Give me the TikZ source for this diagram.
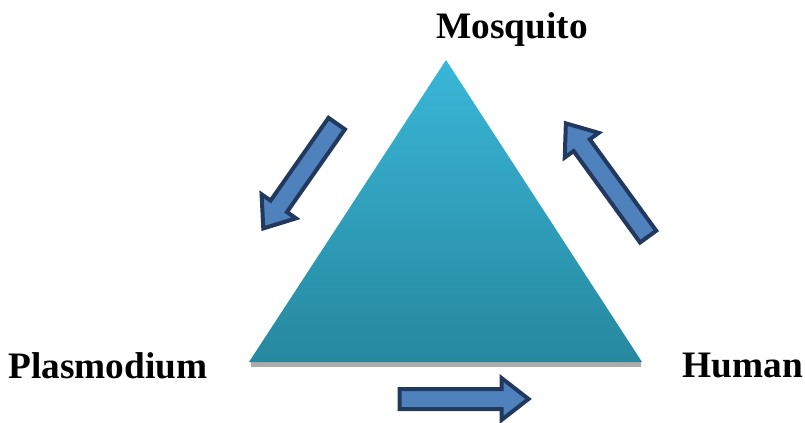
\documentclass[tikz,border=0pt]{standalone}
\usepackage{fontspec}
\setmainfont{Liberation Serif}
\usepackage{tikz}
\definecolor{tritop}{RGB}{58,182,216}
\definecolor{tribottom}{RGB}{38,136,158}
\definecolor{arrowfill}{RGB}{79,129,189}
\definecolor{arrowline}{RGB}{33,57,94}

\tikzset{
    host/.style={font=\fontsize{28}{32}\selectfont\bfseries, inner sep=0pt},
    blockarr/.style={fill=arrowfill, draw=arrowline, line width=3pt, line join=miter},
}

% block arrow: center x, center y, angle, length
\newcommand{\blockarrow}[4]{%
    \begin{scope}[shift={(#1,#2)}, rotate=#3]
        \draw[blockarr] (-#4/2,-10) -- (#4/2-27,-10) -- (#4/2-27,-21)
            -- (#4/2,0) -- (#4/2-27,21) -- (#4/2-27,10) -- (-#4/2,10) -- cycle;
    \end{scope}}

\begin{document}
\begin{tikzpicture}[x=0.75pt, y=-0.75pt]
    \useasboundingbox (0,0) rectangle (805,423);

    % Triangle with its shadow
    \begin{scope}
        \fill[gray!65] (251,362) -- (641,362) -- (641,367) -- (251,367) -- cycle;
        \shade[top color=tritop, bottom color=tribottom]
            (446,60) -- (642,362) -- (249,362) -- cycle;
    \end{scope}

    % Labels
    \node[host] (mosquito) at (512,30) {Mosquito};
    \node[host] (plasmodium) at (108,366) {Plasmodium};
    \node[host] (human) at (743,366) {Human};

    % Cycle arrows
    \blockarrow{300}{176}{235}{128}
    \blockarrow{607}{180}{126}{140}
    \blockarrow{464}{399}{0}{129}
\end{tikzpicture}
\end{document}
